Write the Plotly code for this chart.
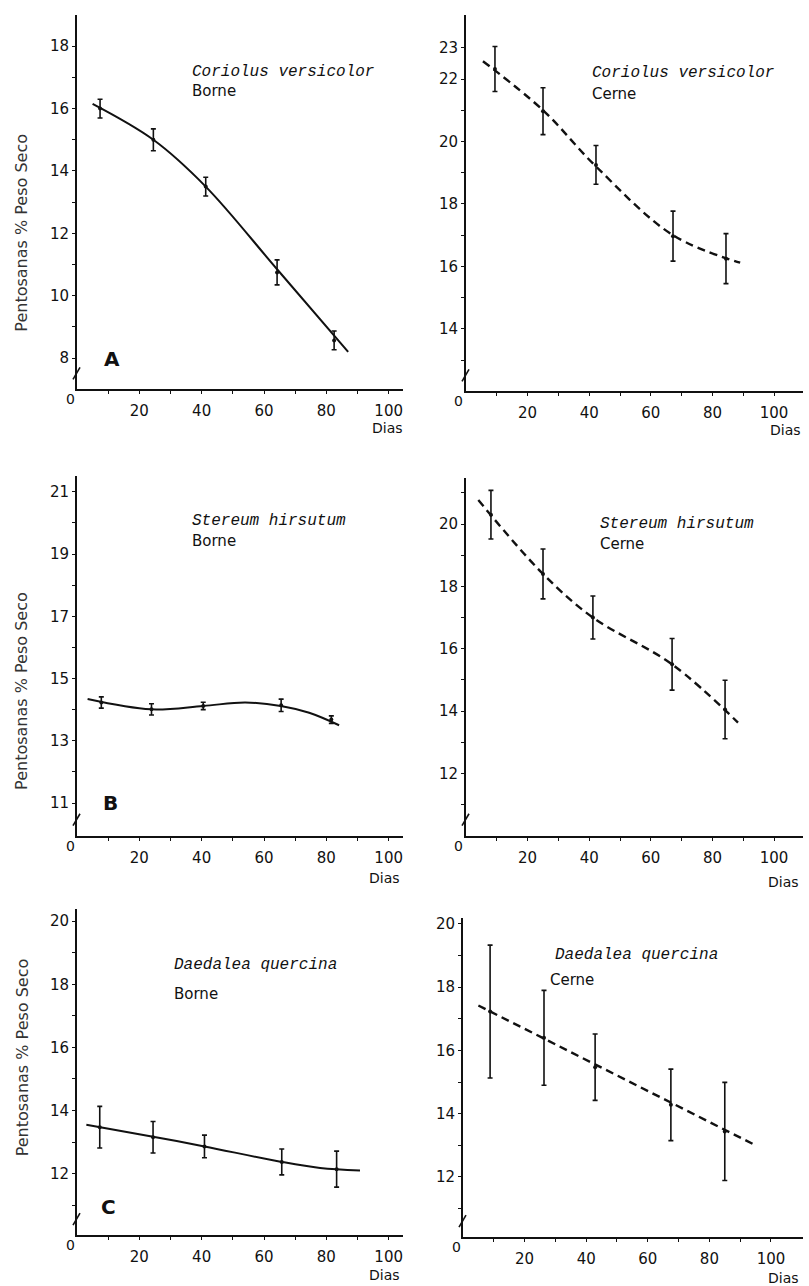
import plotly.graph_objects as go

W, H = 809, 1286

# ---------------- data ----------------
# Panel A - Coriolus versicolor
a_borne_dias = [7.4, 24.5, 41.3, 64.2, 82.5]
a_borne_val = [16.0, 15.0, 13.5, 10.75, 8.57]
a_borne_err = [0.3, 0.35, 0.3, 0.4, 0.3]
a_borne_curve_x = [5, 24.5, 41.3, 64.2, 87]
a_borne_curve_y = [16.15, 15.0, 13.5, 10.85, 8.2]

a_cerne_dias = [9.4, 25, 42.2, 67.2, 84.4]
a_cerne_val = [22.32, 20.97, 19.25, 16.97, 16.25]
a_cerne_err = [0.72, 0.75, 0.62, 0.8, 0.8]
a_cerne_curve_x = [5.5, 25, 42.2, 67.2, 89]
a_cerne_curve_y = [22.57, 21.0, 19.2, 17.0, 16.12]

# Panel B - Stereum hirsutum
b_borne_dias = [7.8, 23.9, 40.5, 65.5, 81.6]
b_borne_val = [14.23, 14.01, 14.12, 14.14, 13.68]
b_borne_err = [0.18, 0.18, 0.12, 0.2, 0.12]
b_borne_curve_x = [3.4, 23.7, 40.5, 54, 65.4, 74.5, 84.1]
b_borne_curve_y = [14.34, 14.01, 14.12, 14.23, 14.12, 13.9, 13.5]

b_cerne_dias = [8.1, 25, 41.2, 66.9, 84.1]
b_cerne_val = [20.3, 18.4, 17.0, 15.5, 14.05]
b_cerne_err = [0.78, 0.8, 0.69, 0.83, 0.94]
b_cerne_curve_x = [4, 25, 41.2, 66.9, 88.3]
b_cerne_curve_y = [20.77, 18.4, 17.0, 15.5, 13.63]

# Panel C - Daedalea quercina
c_borne_dias = [7.3, 24.4, 40.9, 65.7, 83.3]
c_borne_val = [13.47, 13.15, 12.86, 12.37, 12.14]
c_borne_err = [0.66, 0.5, 0.36, 0.41, 0.57]
c_borne_curve_x = [3, 24.4, 40.9, 65.7, 78, 90.8]
c_borne_curve_y = [13.55, 13.17, 12.86, 12.37, 12.18, 12.1]

c_cerne_dias = [8.8, 26.3, 42.9, 67.5, 85]
c_cerne_val = [17.23, 16.4, 15.47, 14.28, 13.44]
c_cerne_err = [2.1, 1.5, 1.05, 1.13, 1.55]
c_cerne_curve_x = [5, 94]
c_cerne_curve_y = [17.42, 13.05]

x_ticks = [20, 40, 60, 80, 100]
x_minor = [10, 30, 50, 70, 90]

especies = ["Coriolus versicolor", "Stereum hirsutum", "Daedalea quercina"]
letras = ["A", "B", "C"]
y_title = "Pentosanas % Peso Seco"

# ---------------- layout helpers ----------------
INK = "#111111"
SANS = "DejaVu Sans, Liberation Sans, sans-serif"
MONO = "Liberation Mono, DejaVu Sans Mono, monospace"


def px(x):
    return x / W


def py(y):
    return 1 - y / H


panels = [
    dict(box=(77, 403, 13, 388), xr=[0, 104.6], yr=[7, 19],
         yt=[8, 10, 12, 14, 16, 18], ym=[9, 11, 13, 15, 17],
         dias=a_borne_dias, val=a_borne_val, err=a_borne_err,
         cx=a_borne_curve_x, cy=a_borne_curve_y, dash="solid"),
    dict(box=(466, 803, 13, 390), xr=[0, 109.4], yr=[12, 24.05],
         yt=[14, 16, 18, 20, 22, 23], ym=[13, 15, 17, 19, 21],
         dias=a_cerne_dias, val=a_cerne_val, err=a_cerne_err,
         cx=a_cerne_curve_x, cy=a_cerne_curve_y, dash="dash"),
    dict(box=(77, 403, 475, 835), xr=[0, 104.6], yr=[9.95, 21.5],
         yt=[11, 13, 15, 17, 19, 21], ym=[12, 14, 16, 18, 20],
         dias=b_borne_dias, val=b_borne_val, err=b_borne_err,
         cx=b_borne_curve_x, cy=b_borne_curve_y, dash="solid"),
    dict(box=(466, 803, 477, 835), xr=[0, 109.4], yr=[10, 21.47],
         yt=[12, 14, 16, 18, 20], ym=[11, 13, 15, 17, 19, 21],
         dias=b_cerne_dias, val=b_cerne_val, err=b_cerne_err,
         cx=b_cerne_curve_x, cy=b_cerne_curve_y, dash="dash"),
    dict(box=(77, 403, 908, 1235), xr=[0, 104.6], yr=[10.05, 20.4],
         yt=[12, 14, 16, 18, 20], ym=[11, 13, 15, 17, 19],
         dias=c_borne_dias, val=c_borne_val, err=c_borne_err,
         cx=c_borne_curve_x, cy=c_borne_curve_y, dash="solid"),
    dict(box=(463, 803, 917, 1237), xr=[0, 110.4], yr=[10.1, 20.2],
         yt=[12, 14, 16, 18, 20], ym=[11, 13, 15, 17, 19],
         dias=c_cerne_dias, val=c_cerne_val, err=c_cerne_err,
         cx=c_cerne_curve_x, cy=c_cerne_curve_y, dash="dash"),
]

fig = go.Figure()
layout = dict(
    width=W, height=H, margin=dict(l=0, r=0, t=0, b=0),
    paper_bgcolor="white", plot_bgcolor="white", showlegend=False,
    font=dict(family=SANS, color=INK, size=14),
)
annotations = []
shapes = []

for i, p in enumerate(panels):
    n = "" if i == 0 else str(i + 1)
    xa, ya = "x" + n, "y" + n
    l, r, t, b = p["box"]
    fig.add_trace(go.Scatter(
        x=p["cx"], y=p["cy"], mode="lines", xaxis=xa, yaxis=ya,
        line=dict(color=INK, width=2.4 if p["dash"] == "dash" else 2.0,
                  dash="8px,5px" if p["dash"] == "dash" else "solid",
                  shape="spline", smoothing=1.0),
        hoverinfo="skip"))
    fig.add_trace(go.Scatter(
        x=p["dias"], y=p["val"], mode="markers", xaxis=xa, yaxis=ya,
        marker=dict(color=INK, size=4),
        error_y=dict(type="data", array=p["err"], visible=True,
                     thickness=1.6, width=2.5, color=INK)))
    layout["xaxis" + n] = dict(
        domain=[px(l), px(r)], range=p["xr"], anchor=ya,
        showline=True, linecolor=INK, linewidth=1.8, showgrid=False, zeroline=False,
        tickmode="array", tickvals=x_ticks, ticktext=[str(v) for v in x_ticks],
        ticks="outside", ticklen=3, tickwidth=1.3, tickcolor=INK,
        ticklabelstandoff=4,
        minor=dict(tickmode="array", tickvals=x_minor, ticks="outside",
                   ticklen=3, tickwidth=1.3, tickcolor=INK),
        tickfont=dict(family=SANS, size=15, color=INK),
    )
    layout["yaxis" + n] = dict(
        domain=[py(b), py(t)], range=p["yr"], anchor=xa,
        showline=True, linecolor=INK, linewidth=1.8, showgrid=False, zeroline=False,
        tickmode="array", tickvals=p["yt"], ticktext=[str(v) for v in p["yt"]],
        ticks="outside", ticklen=3, tickwidth=1.3, tickcolor=INK,
        minor=dict(tickmode="array", tickvals=p["ym"], ticks="outside",
                   ticklen=3, tickwidth=1.3, tickcolor=INK),
        tickfont=dict(family=SANS, size=15, color=INK),
    )
    # origin "0"
    annotations.append(dict(x=px(l - 7), y=py(b + 10), xref="paper", yref="paper",
                            text="0", showarrow=False, xanchor="center", yanchor="middle",
                            font=dict(family=SANS, size=14, color=INK)))
    # axis break mark
    shapes.append(dict(type="line", xref="paper", yref="paper",
                       x0=px(l - 4), y0=py(b - 10), x1=px(l + 3), y1=py(b - 22),
                       line=dict(color=INK, width=1.6)))

# "Dias" labels
dias_pos = [(387, 427), (785, 429), (384, 877), (783, 881), (384, 1275), (783, 1278)]
for (xx, yy) in dias_pos:
    annotations.append(dict(x=px(xx), y=py(yy), xref="paper", yref="paper", text="Dias",
                            showarrow=False, xanchor="center", yanchor="middle",
                            font=dict(family=SANS, size=14, color=INK)))

# species names and wood type
lab_pos = [
    (0, (190, 70), "Borne", (190, 89)),
    (0, (590, 71), "Cerne", (590, 92)),
    (1, (190, 520), "Borne", (190, 540)),
    (1, (598, 523), "Cerne", (598, 543)),
    (2, (172, 964), "Borne", (172, 994)),
    (2, (553, 954), "Cerne", (548, 980)),
]
for k, (sx, sy), wood, (wx, wy) in lab_pos:
    annotations.append(dict(x=px(sx), y=py(sy), xref="paper", yref="paper",
                            text="<i>" + especies[k] + "</i>", showarrow=False,
                            xanchor="left", yanchor="middle",
                            font=dict(family=MONO, size=16, color=INK)))
    annotations.append(dict(x=px(wx), y=py(wy), xref="paper", yref="paper",
                            text=wood, showarrow=False,
                            xanchor="left", yanchor="middle",
                            font=dict(family=SANS, size=15, color=INK)))

# panel letters
for letra, (xx, yy) in zip(letras, [(112, 358), (110, 802), (108, 1207)]):
    annotations.append(dict(x=px(xx), y=py(yy), xref="paper", yref="paper",
                            text="<b>" + letra + "</b>",
                            showarrow=False, xanchor="center", yanchor="middle",
                            font=dict(family=SANS, size=20, color=INK)))

# y titles
for yy in [231, 690, 1057]:
    annotations.append(dict(x=px(22), y=py(yy), xref="paper", yref="paper", text=y_title,
                            showarrow=False, textangle=-90, xanchor="center",
                            yanchor="middle",
                            font=dict(family=SANS, size=16, color="#333333")))

layout["annotations"] = annotations
layout["shapes"] = shapes
fig.update_layout(**layout)
fig.write_html("out.html")
